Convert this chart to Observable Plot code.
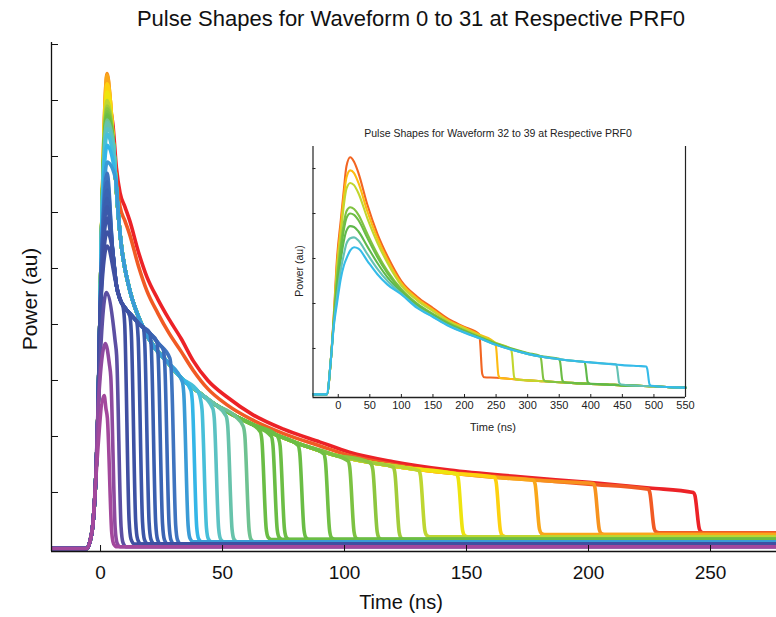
<!DOCTYPE html>
<html><head><meta charset="utf-8">
<script src="https://cdn.jsdelivr.net/npm/d3@7"></script>
<script src="https://cdn.jsdelivr.net/npm/@observablehq/plot@0.6"></script>
<style>
body{margin:0;background:#fff;font-family:"Liberation Sans",Arial,Helvetica,sans-serif;}
#wrap{position:relative;width:776px;height:617px;overflow:hidden;background:#fff;}
.lab{position:absolute;white-space:nowrap;line-height:1;transform:translate(-50%,-50%);}
#main,#inset{position:absolute;}
#main{left:0;top:0;}
#inset{left:290px;top:118px;}
</style></head><body><div id="wrap">
<div id="main"></div><div id="inset"></div>
<div class="lab" style="left:411px;top:19px;font-size:22px;color:#111">Pulse Shapes for Waveform 0 to 31 at Respective PRF0</div>
<div class="lab" style="left:29px;top:299px;font-size:21px;color:#111;transform:translate(-50%,-50%) rotate(-90deg)">Power (au)</div>
<div class="lab" style="left:401px;top:602px;font-size:20px;color:#111">Time (ns)</div>
<div class="lab" style="left:498px;top:133px;font-size:10.5px;color:#222">Pulse Shapes for Waveform 32 to 39 at Respective PRF0</div>
<div class="lab" style="left:299px;top:271px;font-size:10.5px;color:#222;transform:translate(-50%,-50%) rotate(-90deg)">Power (au)</div>
<div class="lab" style="left:493px;top:427px;font-size:11px;color:#222">Time (ns)</div>
</div>
<script>
// ---------------- Main chart: waveforms 0–31 ----------------
const mainWaveform = [0,1,2,3,4,5,6,7,8,9,10,11,12,13,14,15,16,17,18,19,20,21,22,23,24,25,26,27,28,29,30,31];
const mainColor = [
 "#a3489c","#8f4a9f","#5c4fa2","#404fa1","#3d52a4","#3c56a8","#3b5aab","#3a5faf","#3a64b3","#3b6ab8","#3f74bf",
 "#3a9bd6","#34b6e7","#47bfd9","#5bc2c3","#67c3ab","#6ec291",
 "#6abd45","#6abd45","#6cbe45","#6abd45","#70bf44","#7cc242","#8cc63f","#a2cc3a",
 "#bed631","#eee40f","#fdd10f","#f9a71a","#f7921e","#f15a24","#ec2227"];
const mainGroup = ["pulse","pulse","pulse",
 "blue","blue","blue","blue","blue","blue","blue","blue",
 "main","main","main","main","main","main","main","main","main","main","main","main","main","main",
 "main","main","main","main","main","orangeRed","red"];
const mainPeakTime = [1.5,2.0,2.4,2.7,2.7,2.7,2.7,2.7,2.7,2.7,2.7,2.7,2.7,2.7,2.7,2.7,2.7,2.7,2.7,2.7,2.7,2.7,2.7,2.7,2.7,2.7,2.7,2.7,2.7,2.7,3.0,3.2];
const mainPeak = [0.273,0.366,0.457,0.54,0.565,0.59,0.61,0.625,0.64,0.655,0.67,0.69,0.72,0.74,0.75,0.76,0.765,
 0.768,0.77,0.77,0.772,0.775,0.78,0.785,0.79,0.80,0.815,0.83,0.845,0.848,0.80,0.79];
const mainEnd = [2.2,3.6,6.0,9.3,12.0,14.8,17.5,20.2,23.0,25.7,28.4,33.5,37.0,41.0,46.0,51.5,58.5,
 65.5,70.0,73.0,81.0,91.5,101.5,111.0,120.0,130.5,146.0,161.5,177.5,202.0,224.5,243.0];
const mainCorner = [0.25,0.33,0.37,0.43,0.415,0.405,0.395,0.385,0.37,0.355,0.34,0.298,0.283,0.266,0.25,0.236,0.218,
 0.208,0.200,0.196,0.184,0.169,0.156,0.15,0.145,0.139,0.133,0.127,0.122,0.116,0.106,0.100];
const mainTail = [0.003,0.003,0.003,0.008,0.008,0.008,0.008,0.008,0.008,0.008,0.008,
 0.012,0.012,0.012,0.012,0.012,0.012,0.016,0.016,0.016,0.016,0.016,0.016,0.016,0.016,
 0.021,0.021,0.021,0.025,0.025,0.028,0.028];
const baseTime = [-21,-5.5];
const basePower = 0;
const riseTime = [-4.5,-3,-2,-1,-0.3,0.4,1.0,1.6];
const risePower = [0.01,0.05,0.12,0.25,0.40,0.56,0.70,0.79];
const mainEnvTime = [4,5.3,6.2,7.4,8.7,10,11.5,13,15,18,22,27,33,40,47,55,62,72,82,95,110,125,145,165,185,205,225,250,280];
const mainEnvPower = [0.80,0.72,0.66,0.59,0.535,0.50,0.47,0.445,0.42,0.39,0.36,0.335,0.305,0.28,0.257,0.237,0.222,0.203,0.186,0.168,0.154,0.144,0.134,0.126,0.12,0.115,0.108,0.10,0.094];
const blueEnvTime = [5,6.5,8,10,13,16,20,24,28,31];
const blueEnvPower = [0.53,0.47,0.445,0.43,0.415,0.40,0.385,0.365,0.345,0.33];
const redEnvTime = [5,6.5,8,10,12,15.5,19,23.5,28,33,38,44,52,62,75,90,102,120,143,172,200,225,243];
const redEnvPower = [0.76,0.68,0.635,0.61,0.585,0.53,0.485,0.445,0.41,0.375,0.335,0.30,0.27,0.24,0.213,0.19,0.172,0.155,0.14,0.128,0.118,0.108,0.101];
const orangeRedEnvPower = [0.74,0.66,0.61,0.585,0.56,0.505,0.46,0.42,0.385,0.352,0.318,0.285,0.256,0.23,0.205,0.183,0.166,0.15,0.136,0.125,0.115,0.106,0.100];
const dropDt = [0,0.6,2.4,3.2,4.5];
const dropFrac = [1,0.93,0.1,0.02,0];
const mainTailEnd = 280;
const mainXTicks = [0,50,100,150,200,250];
const mainYTicks = [0.1,0.2,0.3,0.4,0.5,0.6,0.7,0.8,0.9];
const mainXDomain = [-20.1,277.05];
const mainYDomain = [-0.0054,0.9036];

// ---------------- Inset: waveforms 32–39 ----------------
const insetWaveform = [32,33,34,35,36,37,38,39];
const insetColor = ["#f26522","#fdbb12","#c2d62e","#80c342","#6cbd45","#5fb94b","#64c2b4","#35bbe9"];
const insetTime = [-40,-18,-12,-7,-2,4,9,13,19,25,32,46,62,78,100,125,150,175,200,225,250,275,300,325,350,375,400,425,450,475,500];
const insetPower32 = [-0.002,-0.002,0.07,0.177,0.30,0.385,0.455,0.505,0.525,0.515,0.49,0.42,0.355,0.305,0.25,0.215,0.19,0.165,0.148];
const insetPower33 = [-0.002,-0.002,0.07,0.17,0.285,0.37,0.44,0.48,0.496,0.49,0.468,0.405,0.345,0.297,0.245,0.211,0.186,0.162,0.146,0.130];
const insetPower34 = [-0.002,-0.002,0.07,0.168,0.275,0.355,0.42,0.455,0.468,0.463,0.445,0.39,0.335,0.29,0.24,0.207,0.183,0.16,0.144,0.128,0.112];
const insetPower35 = [-0.002,-0.002,0.07,0.165,0.255,0.33,0.38,0.405,0.414,0.41,0.397,0.355,0.31,0.272,0.232,0.2,0.177,0.156,0.14,0.125,0.111,0.1,0.09];
const insetPower36 = [-0.002,-0.002,0.07,0.162,0.245,0.315,0.365,0.39,0.40,0.397,0.385,0.346,0.303,0.267,0.229,0.198,0.175,0.155,0.139,0.124,0.11,0.099,0.089,0.082];
const insetPower37 = [-0.002,-0.002,0.07,0.158,0.232,0.297,0.34,0.362,0.372,0.37,0.36,0.327,0.29,0.258,0.225,0.195,0.173,0.153,0.137,0.123,0.109,0.098,0.088,0.081,0.076,0.072];
const insetPower38 = [-0.002,-0.002,0.07,0.155,0.215,0.275,0.31,0.333,0.345,0.347,0.34,0.31,0.277,0.25,0.222,0.192,0.171,0.151,0.136,0.122,0.108,0.097,0.088,0.081,0.076,0.072,0.069,0.066];
const insetPower39 = [-0.002,-0.002,0.07,0.15,0.20,0.255,0.285,0.30,0.318,0.325,0.322,0.295,0.265,0.242,0.22,0.19,0.17,0.15,0.135,0.122,0.108,0.097,0.088,0.081,0.076,0.072,0.069,0.066,0.063,0.061];
const insetEnd = [223,248.7,273.6,320,350,390,440,488];
const insetCorner = [0.132,0.112,0.099,0.083,0.077,0.070,0.065,0.060];
const insetTailStart = [0.036,0.034,0.031,0.027,0.025,0.022,0.02,0.017];
const insetTailTime = [250,275,300,325,350,375,400,425,450,475,500,525,550];
const insetTailPower = [0.035,0.032,0.029,0.027,0.025,0.023,0.021,0.02,0.018,0.017,0.016,0.014,0.013];
const insetDropDt = [0,1.5,5,8];
const insetDropFrac = [1,0.85,0.08,0];
const insetXTicks = [0,50,100,150,200,250,300,350,400,450,500,550];
const insetYTicks = [0.1,0.2,0.3,0.4,0.5];
const insetXDomain = [-40,550];
const insetYDomain = [-0.009,0.549];

// ---------- build main series ----------
const envelopes = {
  main: {time: mainEnvTime, power: mainEnvPower},
  blue: {time: blueEnvTime, power: blueEnvPower},
  red: {time: redEnvTime, power: redEnvPower},
  orangeRed: {time: redEnvTime, power: orangeRedEnvPower}
};
function mainSeries(i) {
  const pts = [];
  const pk = mainPeak[i], pt = mainPeakTime[i];
  baseTime.forEach(t => pts.push([t, basePower]));
  riseTime.forEach((t, k) => { if (t < pt - 0.4 && risePower[k] < pk * 0.8) pts.push([t, risePower[k]]); });
  pts.push([pt, pk]);
  const env = envelopes[mainGroup[i]];
  if (env) env.time.forEach((t, k) => {
    if (t > pt + 0.8 && t < mainEnd[i] - 0.8 && env.power[k] < pk - 0.02) pts.push([t, env.power[k]]);
  });
  const c = mainCorner[i], tl = mainTail[i];
  dropDt.forEach((dt, k) => pts.push([mainEnd[i] + dt, tl + (c - tl) * dropFrac[k]]));
  pts.push([mainTailEnd, tl]);
  return pts.map(([t, p]) => ({id: mainWaveform[i], color: mainColor[i], t, p}));
}
const mainData = [];
for (let i = mainWaveform.length - 1; i >= 0; i--) mainData.push(...mainSeries(i));

const mainPlot = Plot.plot({
  width: 776, height: 617,
  marginTop: 42, marginBottom: 66, marginLeft: 51, marginRight: 0,
  style: {background: "transparent", fontFamily: "'Liberation Sans', Arial, sans-serif", color: "#111"},
  x: {domain: mainXDomain},
  y: {domain: mainYDomain},
  color: {type: "identity"},
  marks: [
    Plot.line(mainData, {x: "t", y: "p", z: "id", stroke: "color", strokeWidth: 3.6, curve: "monotone-x", clip: true, strokeLinejoin: "round"}),
    Plot.axisX({ticks: mainXTicks, tickSize: -6, tickPadding: 20, fontSize: 19, label: null, stroke: "#111"}),
    Plot.axisY({ticks: mainYTicks, tickSize: -7, tickFormat: () => "", label: null, stroke: "#111"}),
    Plot.ruleX([mainXDomain[0]], {stroke: "#111", strokeWidth: 1.3}),
    Plot.ruleY([mainYDomain[0]], {stroke: "#111", strokeWidth: 1.3})
  ]
});
document.getElementById("main").appendChild(mainPlot);

// ---------- build inset series ----------
const insetPowers = [insetPower32, insetPower33, insetPower34, insetPower35, insetPower36, insetPower37, insetPower38, insetPower39];
function insetSeries(i) {
  const pts = [];
  insetPowers[i].forEach((p, k) => pts.push([insetTime[k], p]));
  const c = insetCorner[i], tl = insetTailStart[i], e = insetEnd[i];
  insetDropDt.forEach((dt, k) => pts.push([e + dt, tl + (c - tl) * insetDropFrac[k]]));
  insetTailTime.forEach((t, k) => { if (t > e + 14) pts.push([t, insetTailPower[k]]); });
  return pts.map(([t, p]) => ({id: insetWaveform[i], color: insetColor[i], t, p}));
}
const insetData = [];
for (let i = 0; i < insetWaveform.length; i++) insetData.push(...insetSeries(i));

const insetPlot = Plot.plot({
  width: 410, height: 322,
  marginTop: 28, marginBottom: 43, marginLeft: 22.5, marginRight: 15,
  style: {background: "transparent", fontFamily: "'Liberation Sans', Arial, sans-serif", color: "#222"},
  x: {domain: insetXDomain},
  y: {domain: insetYDomain},
  color: {type: "identity"},
  marks: [
    Plot.line(insetData, {x: "t", y: "p", z: "id", stroke: "color", strokeWidth: 2.1, curve: "monotone-x", strokeLinejoin: "round"}),
    Plot.axisX({ticks: insetXTicks, tickSize: -3, tickPadding: 7, fontSize: 11, label: null, stroke: "#222"}),
    Plot.axisY({ticks: insetYTicks, tickSize: -3, tickFormat: () => "", label: null, stroke: "#222"}),
    Plot.ruleX([insetXDomain[0], insetXDomain[1]], {stroke: "#222", strokeWidth: 1.2}),
    Plot.ruleY([insetYDomain[0]], {stroke: "#222", strokeWidth: 1.3})
  ]
});
document.getElementById("inset").appendChild(insetPlot);
</script>
</body></html>
